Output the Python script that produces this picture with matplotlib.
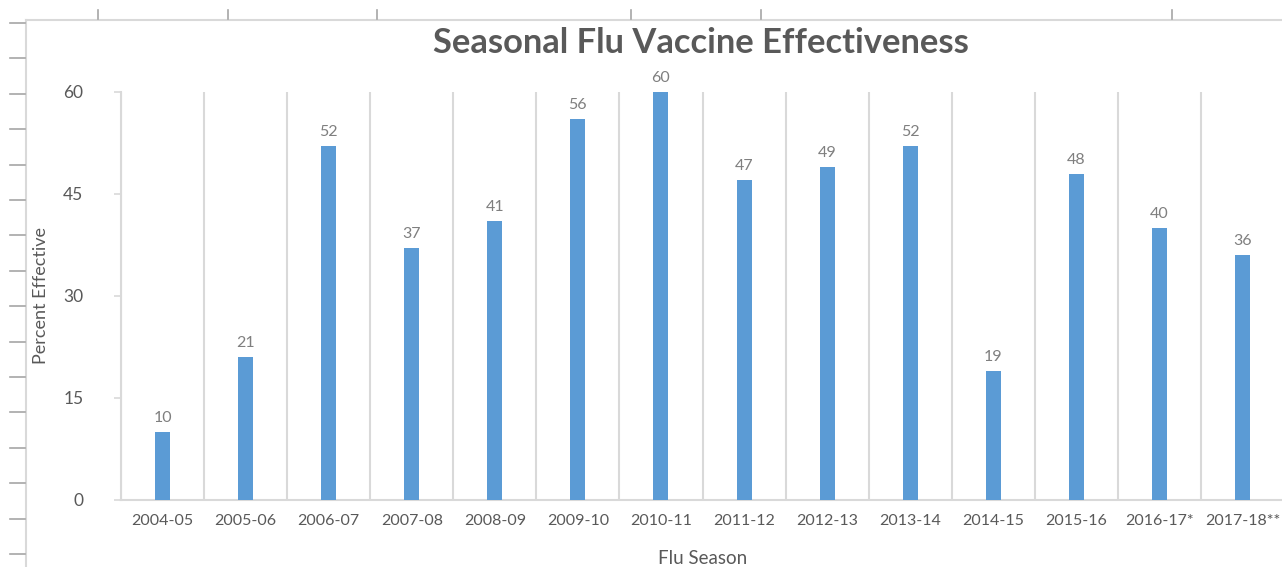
import numpy as np
from matplotlib import pyplot as plt
from matplotlib.lines import Line2D

seasons = ['2004-05', '2005-06', '2006-07', '2007-08', '2008-09', '2009-10', '2010-11',
           '2011-12', '2012-13', '2013-14', '2014-15', '2015-16', '2016-17*', '2017-18**']
effective = [10, 21, 52, 37, 41, 56, 60, 47, 49, 52, 19, 48, 40, 36]
yticks = [0, 15, 30, 45, 60]

plt.rcParams['font.family'] = ['Lato', 'DejaVu Sans']

W, H = 1282, 567
fig = plt.figure(figsize=(W / 100, H / 100), dpi=100)

# spreadsheet frame and ruler ticks behind the chart
bg = fig.add_axes([0, 0, 1, 1], zorder=0)
bg.set_xlim(0, W)
bg.set_ylim(H, 0)
bg.axis('off')
bg.add_line(Line2D([26, 26], [20, H], color='#d9d9d9', lw=1.5))
bg.add_line(Line2D([26, W], [20, 20], color='#d9d9d9', lw=1.5))
for x in [98, 228, 377, 631, 761, 1172]:
    bg.add_line(Line2D([x, x], [10, 19], color='#a6a6a6', lw=1.2))
for y in 23 + 35.4 * np.arange(16):
    bg.add_line(Line2D([10, 25], [y, y], color='#a6a6a6', lw=1.2))

ax = fig.add_axes([121 / W, 67 / H, 1163 / W, 408 / H], zorder=1)
ax.patch.set_alpha(0)
ind = np.arange(len(seasons))
bars = ax.bar(ind, effective, width=0.18, color='#5b9bd5', zorder=3)
ax.bar_label(bars, padding=5, color='#7f7f7f', fontsize=11.5)

ax.set_xlim(-0.5, len(seasons) - 0.5)
ax.set_ylim(0, 60)
ax.set_xticks(ind)
ax.set_xticklabels(seasons, fontsize=11.5, color='#595959')
ax.set_xticks(np.arange(-0.5, len(seasons), 1), minor=True)
ax.grid(which='minor', axis='x', color='#d9d9d9', lw=1.5, zorder=0)
ax.tick_params(axis='x', which='both', length=0, pad=10)
ax.set_yticks(yticks)
ax.tick_params(axis='y', length=5, width=1.2, color='#d9d9d9', labelcolor='#595959',
               labelsize=12.5, pad=22)

for s in ['top', 'right']:
    ax.spines[s].set_visible(False)
for s in ['left', 'bottom']:
    ax.spines[s].set_color('#d9d9d9')
    ax.spines[s].set_linewidth(1.5)

ax.set_xlabel('Flu Season', fontsize=13.5, color='#595959', labelpad=16)
ax.set_ylabel('Percent Effective', fontsize=13, color='#595959', labelpad=10)
fig.text(701 / W, 1 - 43 / H, 'Seasonal Flu Vaccine Effectiveness', ha='center', va='center',
         fontsize=24.8, fontweight='bold', color='#595959')

fig.savefig('out.png', dpi=100)
